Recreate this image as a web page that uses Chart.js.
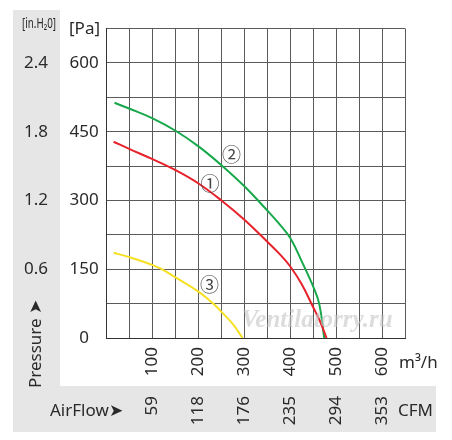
<!DOCTYPE html>
<html>
<head>
<meta charset="utf-8">
<script src="https://cdn.jsdelivr.net/npm/chart.js@4.4.0/dist/chart.umd.min.js"></script>
<style>
  body { margin: 0; background: #fff; }
  #wrap { width: 452px; height: 440px; }
</style>
</head>
<body>
<div id="wrap"><canvas id="fanChart" width="452" height="440"></canvas></div>
<script>
// airflow (m3/h) and pressure (Pa)
const curve1Flow = [15, 50, 100, 150, 200, 250, 300, 350, 375, 400, 425, 450, 465, 479];
const curve1Pa   = [428, 412, 390, 366, 337, 300, 258, 210, 185, 156, 117, 67, 36, 0];
const curve2Flow = [17, 50, 100, 150, 200, 250, 300, 350, 375, 400, 425, 450, 463, 474];
const curve2Pa   = [513, 500, 479, 452, 418, 377, 331, 278, 250, 218, 167, 112, 75, 0];
const curve3Flow = [15, 50, 100, 120, 150, 200, 232, 250, 275, 296];
const curve3Pa   = [186, 176, 159, 150, 132, 101, 75, 57, 30, 0];

const flowTicks = [100, 200, 300, 400, 500, 600];
const cfmLabels = ["59", "118", "176", "235", "294", "353"];
const paTicks = [0, 150, 300, 450, 600];
const inH2OLabels = ["", "0.6", "1.2", "1.8", "2.4"];

const FONT = "'Noto Sans', sans-serif";
const TXT = "#2a2a2a";

function points(xs, ys) {
  return xs.map((x, i) => ({ x: x, y: ys[i] }));
}

// circled curve numbers, placed in data coordinates
const curveTags = [
  { text: "\u2460", x: 225, y: 337 },
  { text: "\u2461", x: 272, y: 399 },
  { text: "\u2462", x: 224, y: 116 },
];

const panelPlugin = {
  id: "panels",
  beforeDraw(chart) {
    const ctx = chart.ctx;
    ctx.save();
    ctx.fillStyle = "#e6e6e6";
    ctx.fillRect(13, 10, 47, 422);
    ctx.fillRect(13, 386, 423, 46);
    ctx.restore();
  },
  afterDraw(chart) {
    const ctx = chart.ctx;
    const xs = chart.scales.x;
    const ys = chart.scales.y;
    ctx.save();

    // watermark
    ctx.globalAlpha = 0.6;
    ctx.fillStyle = "#c4c4c4";
    ctx.font = "italic bold 25px 'Liberation Serif', serif";
    ctx.textAlign = "center";
    ctx.textBaseline = "middle";
    ctx.fillText("Ventilatorry.ru", 317, 321);
    ctx.globalAlpha = 1;

    // curve tags
    ctx.fillStyle = "#444";
    ctx.font = "19px 'Noto Sans CJK JP', 'DejaVu Sans', sans-serif";
    curveTags.forEach((t) => {
      ctx.fillText(t.text, xs.getPixelForValue(t.x), ys.getPixelForValue(t.y));
    });

    // units and axis captions
    ctx.fillStyle = TXT;
    ctx.font = "17px " + FONT;
    ctx.textAlign = "left";
    ctx.textBaseline = "alphabetic";
    ctx.fillText("[Pa]", 69, 34);
    ctx.fillText("m\u00b3/h", 399, 368);
    ctx.fillText("CFM", 398, 416);
    ctx.fillText("AirFlow\u27a4", 50, 416);

    ctx.save();
    ctx.translate(36, 388);
    ctx.rotate(-Math.PI / 2);
    ctx.textBaseline = "middle";
    ctx.fillText("Pressure \u27a4", 0, 0);
    ctx.restore();

    ctx.save();
    ctx.translate(22, 28);
    ctx.scale(0.7, 1);
    ctx.font = "14px " + FONT;
    ctx.fillText("[in.H\u20820]", 0, 0);
    ctx.restore();

    ctx.restore();
  },
};

const tickFont = { family: FONT, size: 17 };

new Chart(document.getElementById("fanChart"), {
  type: "line",
  data: {
    datasets: [
      { label: "1", data: points(curve1Flow, curve1Pa), borderColor: "#e8222b" },
      { label: "2", data: points(curve2Flow, curve2Pa), borderColor: "#17a84b" },
      { label: "3", data: points(curve3Flow, curve3Pa), borderColor: "#f7e024" },
    ],
  },
  options: {
    responsive: false,
    animation: false,
    layout: { padding: { left: 13, top: 28.5, right: 47, bottom: 8 } },
    elements: {
      line: { borderWidth: 2, tension: 0.4, fill: false },
      point: { radius: 0 },
    },
    plugins: { legend: { display: false }, tooltip: { enabled: false } },
    scales: {
      x: {
        type: "linear", min: 0, max: 650, position: "bottom", weight: 0,
        afterFit: (s) => { s.height = 48; },
        grid: { color: "#5a5a5a", lineWidth: 1, drawTicks: false },
        border: { color: "#333" },
        ticks: {
          stepSize: 50, autoSkip: false, minRotation: 90, maxRotation: 90,
          padding: 9, color: TXT, font: tickFont,
          callback: (v) => (flowTicks.includes(v) ? String(v) : ""),
        },
      },
      x2: {
        type: "linear", min: 0, max: 650, position: "bottom", weight: 1,
        afterFit: (s) => { s.height = 46; },
        grid: { display: false, drawTicks: false },
        border: { display: false },
        ticks: {
          stepSize: 50, autoSkip: false, minRotation: 90, maxRotation: 90,
          padding: 10, color: TXT, font: tickFont,
          callback: (v) => {
            const i = flowTicks.indexOf(v);
            return i < 0 ? "" : cfmLabels[i];
          },
        },
      },
      y: {
        min: 0, max: 675, position: "left", weight: 0,
        afterFit: (s) => { s.width = 46.7; },
        grid: { color: "#5a5a5a", lineWidth: 1, drawTicks: false },
        border: { color: "#333" },
        ticks: {
          stepSize: 75, crossAlign: "center", padding: 8, color: TXT, font: tickFont,
          callback: (v) => (paTicks.includes(v) ? String(v) : ""),
        },
      },
      y2: {
        min: 0, max: 675, position: "left", weight: 1,
        afterFit: (s) => { s.width = 47; },
        grid: { display: false, drawTicks: false },
        border: { display: false },
        ticks: {
          stepSize: 75, crossAlign: "center", padding: 12, color: TXT, font: tickFont,
          callback: (v) => {
            const i = paTicks.indexOf(v);
            return i < 0 ? "" : inH2OLabels[i];
          },
        },
      },
    },
  },
  plugins: [panelPlugin],
});
</script>
</body>
</html>
